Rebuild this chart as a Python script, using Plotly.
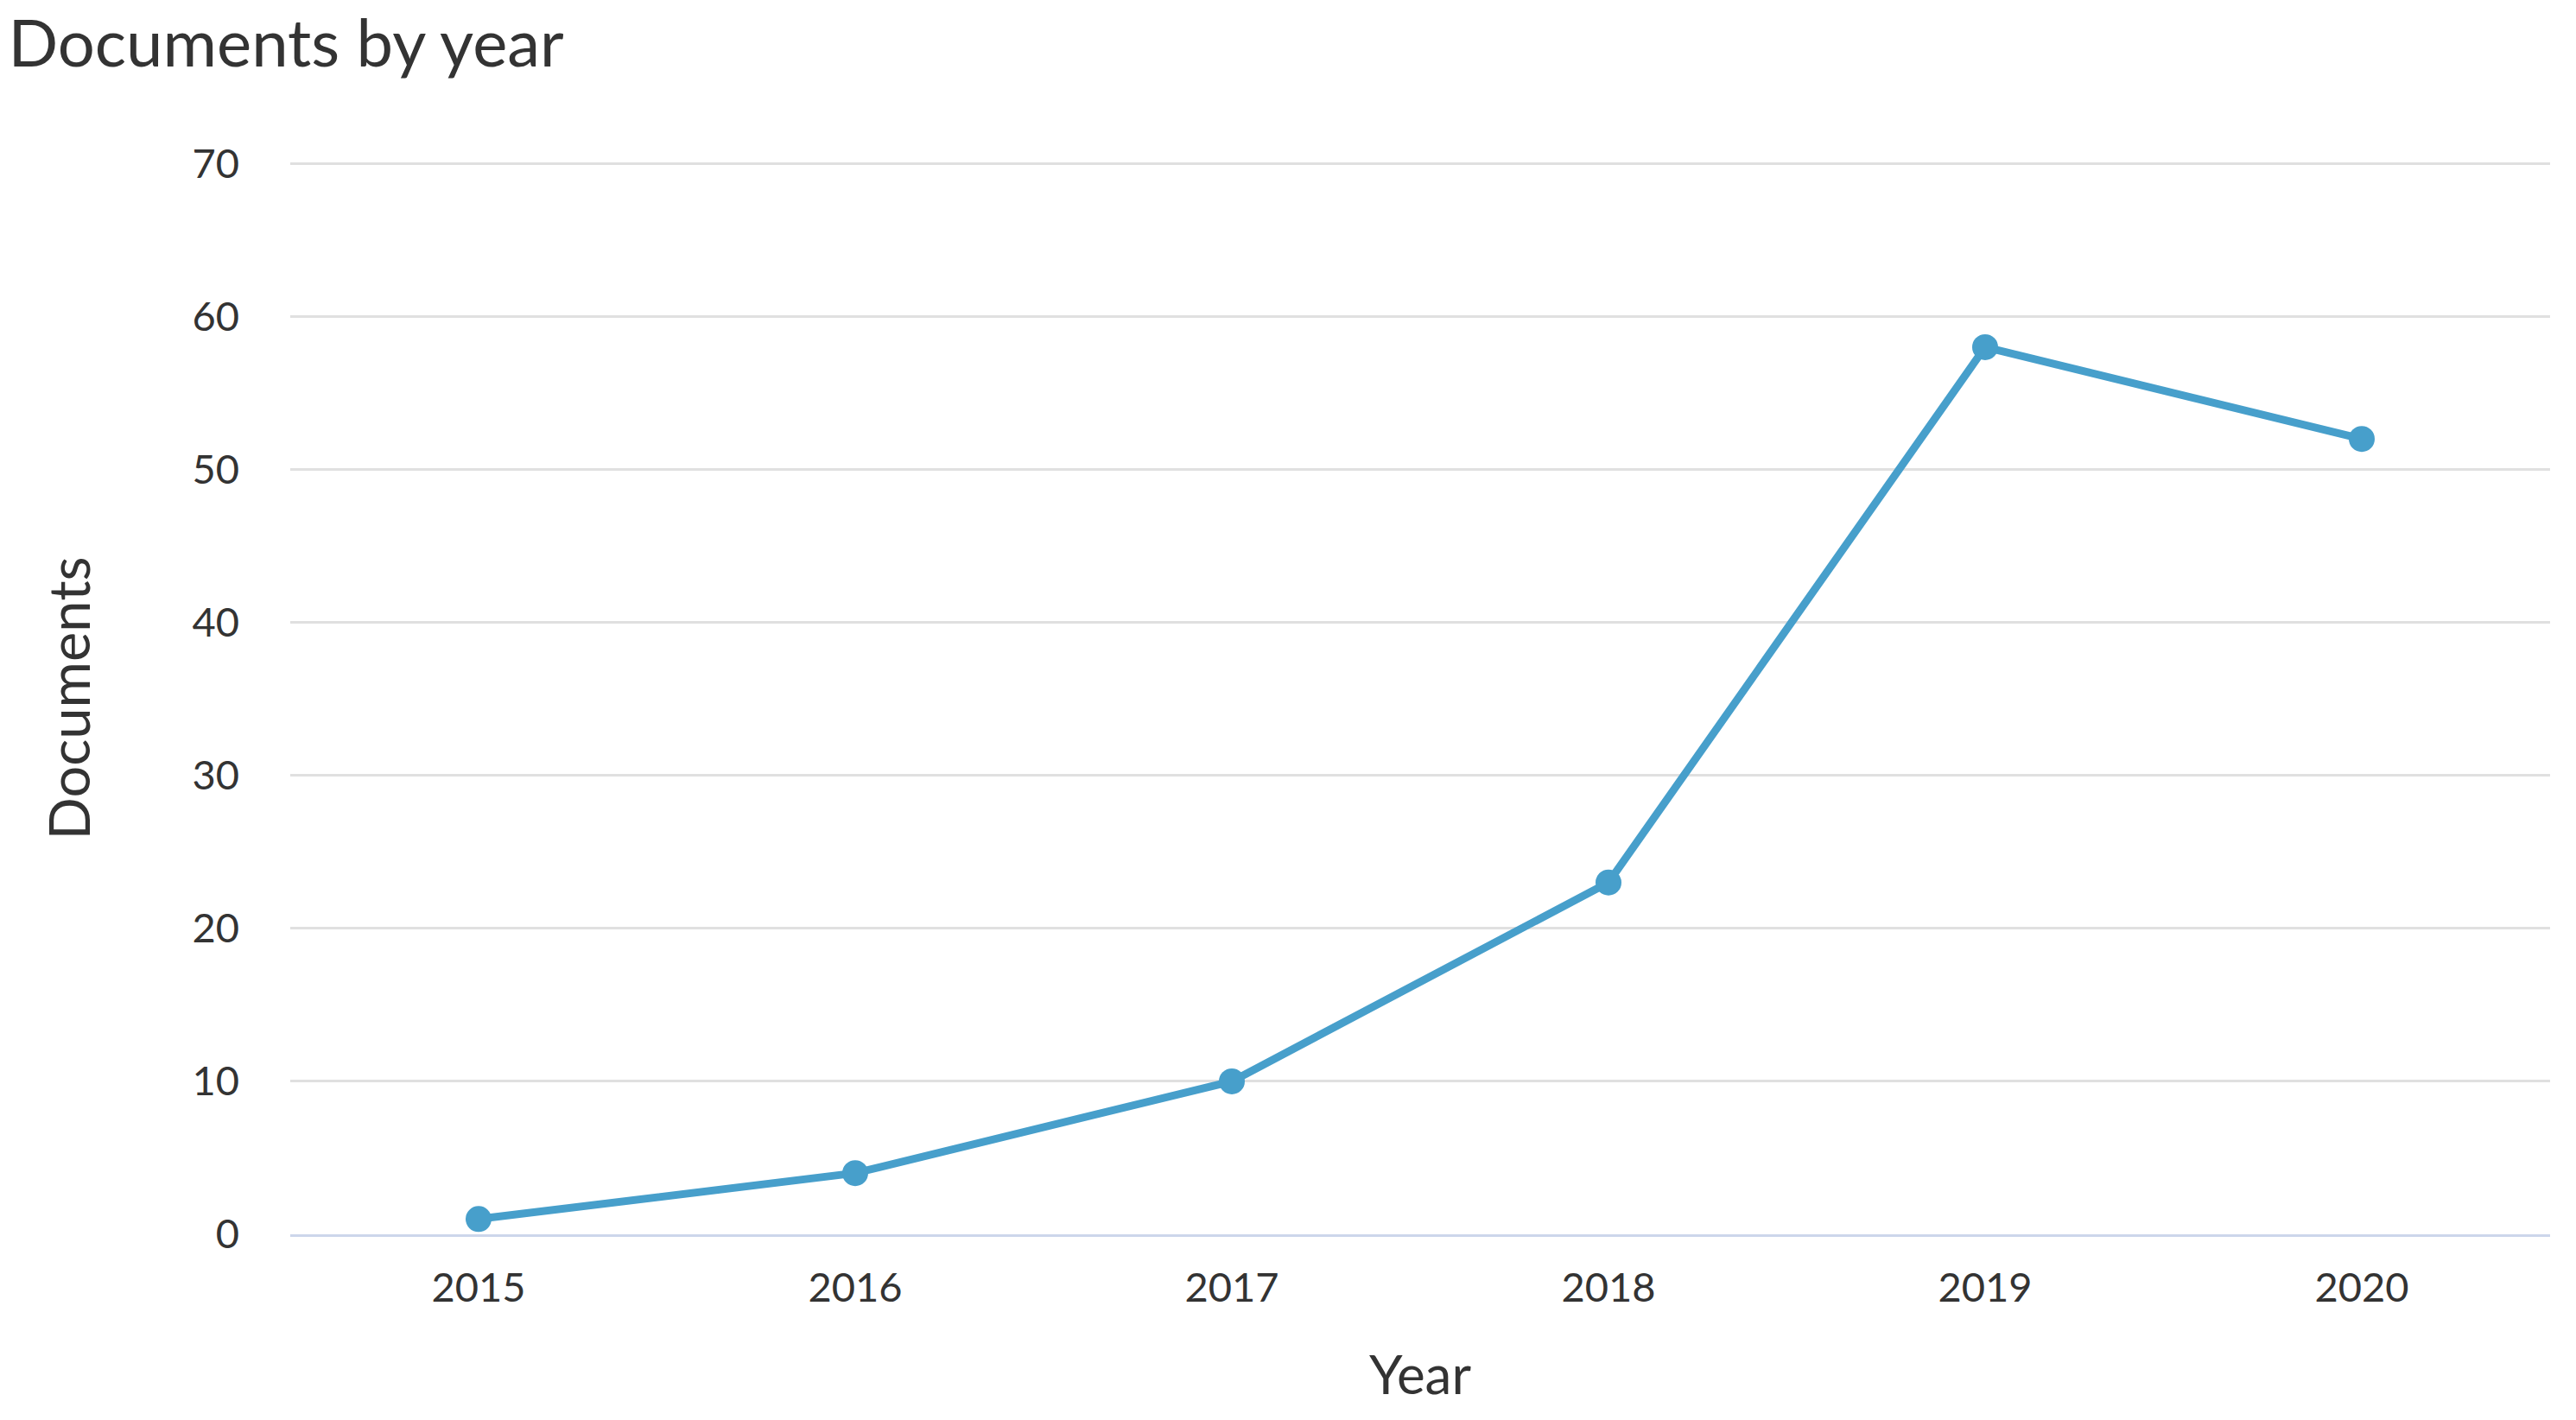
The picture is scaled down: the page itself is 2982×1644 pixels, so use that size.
import plotly.graph_objects as go

years = ["2015", "2016", "2017", "2018", "2019", "2020"]
documents = [1, 4, 10, 23, 58, 52]
y_ticks = [0, 10, 20, 30, 40, 50, 60, 70]

FONT = "Lato"
TXT = "#333333"

fig = go.Figure()
fig.add_trace(go.Scatter(
    x=years, y=documents, mode="lines+markers",
    line=dict(color="#479FCB", width=9),
    marker=dict(color="#479FCB", size=30),
    showlegend=False,
    cliponaxis=False,
))

fig.update_layout(
    width=2966, height=1628,
    paper_bgcolor="white", plot_bgcolor="white",
    margin=dict(l=328, r=22, t=180, b=207, autoexpand=False),
    font=dict(family=FONT, color=TXT),
    title=dict(text="Documents by year", x=0.0005, xanchor="left", xref="container",
               y=1 - 16 / 1628, yanchor="top", yref="container",
               font=dict(family=FONT, size=76, color=TXT)),
    xaxis=dict(type="category", range=[-0.5, 5.5], showgrid=False,
               showline=True, linecolor="#ccd6eb", linewidth=3,
               ticks="", tickfont=dict(size=47, color=TXT),
               ticklabelstandoff=19,
               title=dict(text="Year", font=dict(size=62, color=TXT), standoff=55)),
    yaxis=dict(range=[0, 70.08], tickvals=y_ticks, showgrid=True,
               gridcolor="#e0e0e0", gridwidth=3, zeroline=False, showline=False,
               ticks="", tickfont=dict(size=47, color=TXT),
               ticklabelstandoff=58,
               title=dict(text="Documents", font=dict(size=65, color=TXT), standoff=96)),
)

fig.write_html("out.html")
